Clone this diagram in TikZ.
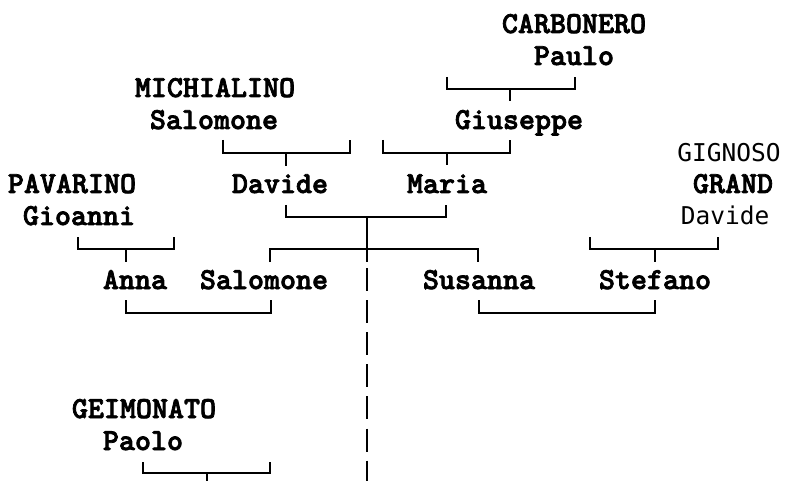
\documentclass[tikz,border=0pt]{standalone}
\usepackage{fontspec}
\newfontfamily\namefont{lmmonolt10-bold.otf}[FakeBold=2.5]
\newfontfamily\dvmono{DejaVu Sans Mono}
\usetikzlibrary{positioning}

\begin{document}
\begin{tikzpicture}[x=1pt, y=-1pt, line width=1.5pt,
      person/.style={anchor=base, inner sep=0pt,
                     font=\namefont\fontsize{30.5}{34}\selectfont},
      personsans/.style={anchor=base, inner sep=0pt,
                     font=\dvmono\fontsize{24.5}{28}\selectfont},
      bar/.style={line cap=butt}]
    \useasboundingbox (0,0) rectangle (792,481);

    % names, row by row
    \node[person] (carb)  at (574,33)  {CARBONERO};
    \node[person] (paulo) at (574,65)  {Paulo};
    \node[person] (mich)  at (215,97)  {MICHIALINO};
    \node[person] (salo1) at (214,129) {Salomone};
    \node[person] (gius)  at (519,129) {Giuseppe};
    \node[personsans] (gign) at (729,162) {GIGNOSO};
    \node[person] (pava)  at (72,193)  {PAVARINO};
    \node[person] (davi)  at (280,193) {Davide};
    \node[person] (mari)  at (447,193) {Maria};
    \node[person] (grand) at (733,193) {GRAND};
    \node[person] (gioa)  at (79,225)  {Gioanni};
    \node[personsans] (davi2) at (725,225) {Davide};
    \node[person] (anna)  at (135,289) {Anna};
    \node[person] (salo2) at (264,289) {Salomone};
    \node[person] (susa)  at (479,289) {Susanna};
    \node[person] (stef)  at (655,289) {Stefano};
    \node[person] (geim)  at (144,418) {GEIMONATO};
    \node[person] (paol)  at (143,450) {Paolo};

    % joints under each couple
    \coordinate (jGius) at (510,89);
    \coordinate (jMari) at (447,153);
    \coordinate (jDavi) at (286,153);
    \coordinate (jAnna) at (126,249);
    \coordinate (jStef) at (655,249);
    \coordinate (jMid)  at (367,217);
    \coordinate (jPaol) at (207,473);

    \draw[bar] (447,77) |- (575,89) -- ++(0,-12);
    \draw (jGius) -- ++(0,12);
    \draw[bar] (383,140) |- (510,153) -- ++(0,-13);
    \draw (jMari) -- ++(0,12);
    \draw[bar] (223,140) |- (350,153) -- ++(0,-13);
    \draw (jDavi) -- ++(0,13);
    \draw[bar] (78,237) |- (174,249) -- ++(0,-12);
    \draw (jAnna) -- ++(0,13);
    \draw[bar] (590,237) |- (718,249) -- ++(0,-12);
    \draw (jStef) -- ++(0,13);
    \draw[bar] (286,205) |- (446,217) -- ++(0,-12);
    \draw (jMid) -- ++(0,45);
    \draw[bar] (270,262) |- (478,249) -- ++(0,13);
    \draw[bar] (126,300) |- (271,313) -- ++(0,-13);
    \draw[bar] (479,300) |- (655,313) -- ++(0,-13);
    \draw[bar] (143,462) |- (270,473) -- ++(0,-11);
    \draw (jPaol) -- ++(0,8);

    % line of descent, broken per row
    \foreach \k in {0,...,6}
      \draw (jMid |- 0,268) ++(0,32.1*\k) -- ++(0,23);
  \end{tikzpicture}
\end{document}
